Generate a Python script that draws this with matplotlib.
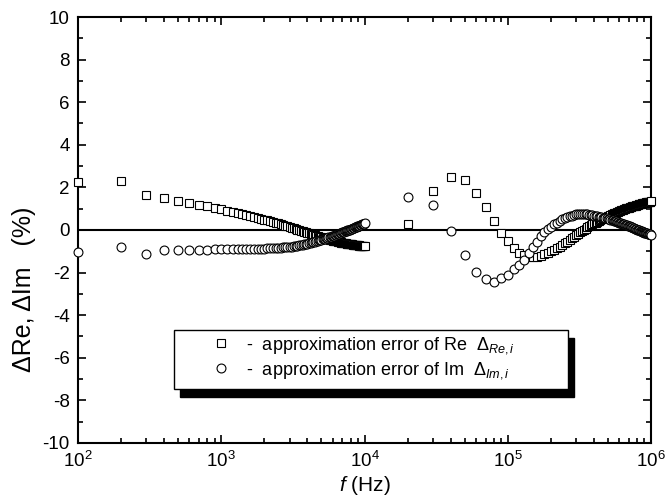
import numpy as np
import matplotlib
matplotlib.use("Agg")
import matplotlib.pyplot as plt
from matplotlib.patches import Rectangle
from matplotlib.lines import Line2D
from matplotlib.ticker import MultipleLocator, LogLocator, NullFormatter

plt.rcParams['font.family'] = ['Liberation Sans', 'DejaVu Sans']
plt.rcParams['mathtext.fontset'] = 'custom'
plt.rcParams['mathtext.rm'] = 'Liberation Sans'
plt.rcParams['mathtext.it'] = 'Liberation Sans:italic'
plt.rcParams['mathtext.bf'] = 'Liberation Sans:bold'
plt.rcParams['axes.unicode_minus'] = False

# ---- data ----
# sampling grid 1: 100 Hz .. 10 kHz in 100 Hz steps
f_low = np.arange(100, 10001, 100)
re_low = [2.25, 2.30, 1.62, 1.50, 1.38, 1.25, 1.18, 1.12, 1.03, 0.97,
          0.91, 0.86, 0.81, 0.76, 0.71, 0.67, 0.62, 0.57, 0.53, 0.49,
          0.45, 0.41, 0.38, 0.34, 0.31, 0.27, 0.24, 0.20, 0.17, 0.14,
          0.11, 0.08, 0.05, 0.02, 0.00, -0.03, -0.06, -0.09, -0.11, -0.14,
          -0.16, -0.19, -0.21, -0.23, -0.25, -0.27, -0.29, -0.31, -0.33, -0.35,
          -0.37, -0.38, -0.40, -0.41, -0.43, -0.44, -0.46, -0.47, -0.48, -0.50,
          -0.51, -0.52, -0.53, -0.54, -0.55, -0.56, -0.57, -0.58, -0.59, -0.60,
          -0.61, -0.62, -0.62, -0.63, -0.64, -0.65, -0.65, -0.66, -0.67, -0.67,
          -0.68, -0.68, -0.69, -0.69, -0.70, -0.70, -0.71, -0.71, -0.72, -0.72,
          -0.72, -0.73, -0.73, -0.74, -0.74, -0.74, -0.75, -0.75, -0.75, -0.76]
im_low = [-1.05, -0.78, -1.15, -0.93, -0.92, -0.92, -0.92, -0.92, -0.91, -0.91,
          -0.91, -0.90, -0.90, -0.89, -0.89, -0.89, -0.88, -0.88, -0.87, -0.87,
          -0.86, -0.86, -0.85, -0.85, -0.84, -0.83, -0.82, -0.81, -0.80, -0.79,
          -0.78, -0.77, -0.75, -0.74, -0.72, -0.71, -0.69, -0.67, -0.66, -0.64,
          -0.62, -0.60, -0.58, -0.57, -0.55, -0.53, -0.51, -0.49, -0.47, -0.45,
          -0.43, -0.41, -0.40, -0.38, -0.36, -0.35, -0.33, -0.31, -0.30, -0.28,
          -0.26, -0.25, -0.23, -0.21, -0.20, -0.18, -0.16, -0.15, -0.13, -0.11,
          -0.10, -0.08, -0.07, -0.05, -0.04, -0.02, -0.01, 0.01, 0.02, 0.04,
          0.05, 0.07, 0.08, 0.10, 0.11, 0.13, 0.14, 0.16, 0.17, 0.19,
          0.20, 0.21, 0.23, 0.24, 0.25, 0.26, 0.28, 0.29, 0.30, 0.31]

# sampling grid 2: 20 kHz .. 1 MHz in 10 kHz steps
f_high = np.arange(20000, 1000001, 10000)
re_high = [0.30, 1.85, 2.50, 2.35, 1.75, 1.08, 0.44, -0.15, -0.50,
           -0.85, -1.07, -1.18, -1.25, -1.28, -1.27, -1.22, -1.15, -1.07, -1.00,
           -0.93, -0.86, -0.79, -0.71, -0.63, -0.55, -0.47, -0.39, -0.31, -0.24,
           -0.17, -0.11, -0.05, 0.01, 0.07, 0.12, 0.17, 0.22, 0.27, 0.31,
           0.35, 0.39, 0.43, 0.47, 0.50, 0.53, 0.56, 0.59, 0.62, 0.65,
           0.68, 0.70, 0.73, 0.75, 0.78, 0.80, 0.82, 0.84, 0.86, 0.88,
           0.90, 0.92, 0.94, 0.96, 0.97, 0.99, 1.01, 1.02, 1.04, 1.05,
           1.07, 1.08, 1.09, 1.11, 1.12, 1.13, 1.14, 1.15, 1.17, 1.18,
           1.19, 1.20, 1.21, 1.22, 1.23, 1.24, 1.25, 1.26, 1.26, 1.27,
           1.28, 1.29, 1.30, 1.30, 1.31, 1.32, 1.32, 1.33, 1.33, 1.34]
im_high = [1.56, 1.17, -0.05, -1.19, -1.96, -2.30, -2.44, -2.27, -2.10,
           -1.85, -1.62, -1.40, -1.10, -0.81, -0.55, -0.30, -0.10, 0.05, 0.16,
           0.26, 0.35, 0.43, 0.50, 0.56, 0.61, 0.65, 0.68, 0.71, 0.73,
           0.74, 0.75, 0.75, 0.75, 0.74, 0.73, 0.72, 0.70, 0.69, 0.67,
           0.66, 0.64, 0.63, 0.61, 0.60, 0.58, 0.57, 0.55, 0.54, 0.52,
           0.50, 0.49, 0.47, 0.45, 0.44, 0.42, 0.40, 0.39, 0.37, 0.35,
           0.34, 0.32, 0.30, 0.29, 0.27, 0.25, 0.24, 0.22, 0.20, 0.19,
           0.17, 0.15, 0.14, 0.12, 0.10, 0.09, 0.07, 0.06, 0.04, 0.02,
           0.01, -0.01, -0.02, -0.04, -0.05, -0.07, -0.08, -0.09, -0.11, -0.12,
           -0.13, -0.14, -0.15, -0.16, -0.17, -0.18, -0.19, -0.20, -0.21, -0.22]

label_re = r"-  approximation error of Re  $\mathit{Δ}_{Re,i}$"
label_im = r"-  approximation error of Im  $\mathit{Δ}_{Im,i}$"

# ---- figure ----
fig = plt.figure(figsize=(6.66, 5.03), dpi=100)
ax = fig.add_axes([0.1171, 0.1193, 0.8604, 0.8469])

mk = dict(linestyle='none', markerfacecolor='white', markeredgecolor='black',
          markeredgewidth=0.8, markersize=6.4)
f_all = np.concatenate([f_low, f_high])
re_all = np.concatenate([re_low, re_high])
im_all = np.concatenate([im_low, im_high])

ax.axhline(0, color='black', lw=1.5, zorder=1)
ax.plot(f_all, re_all, marker='s', zorder=3, clip_on=False, **mk)
ax.plot(f_all, im_all, marker='o', zorder=3, clip_on=False, **mk)

ax.set_xscale('log')
ax.set_xlim(1e2, 1e6)
ax.set_ylim(-10, 10)
ax.yaxis.set_major_locator(MultipleLocator(2))
ax.yaxis.set_minor_locator(MultipleLocator(1))
ax.xaxis.set_major_locator(LogLocator(base=10, numticks=10))
ax.xaxis.set_minor_locator(LogLocator(base=10, subs=np.arange(2, 10), numticks=20))
ax.xaxis.set_minor_formatter(NullFormatter())

for s in ax.spines.values():
    s.set_linewidth(1.5)
ax.tick_params(which='both', direction='in', top=True, right=True, width=1.2)
ax.tick_params(which='major', length=6, labelsize=13.5, pad=6)
ax.tick_params(which='minor', length=3.6)

ax.set_xlabel(r"$f$ (Hz)", fontsize=15, labelpad=2)
ax.set_ylabel("ΔRe, ΔIm   (%)", fontsize=18)
ax.yaxis.set_label_coords(-0.074, 0.3615)

# legend frame with hard shadow
bx0, by0, bw, bh = 0.1675, 0.1268, 0.6877, 0.1385
ax.add_patch(Rectangle((bx0 + 0.0105, by0 - 0.0188), bw, bh, transform=ax.transAxes,
                       facecolor='black', edgecolor='black', zorder=6))
ax.add_patch(Rectangle((bx0, by0), bw, bh, transform=ax.transAxes,
                       facecolor='white', edgecolor='black', lw=1.0, zorder=7))

handles = [Line2D([], [], marker='s', **mk), Line2D([], [], marker='o', **mk)]
leg = ax.legend(handles, [label_re, label_im], loc='upper left',
                bbox_to_anchor=(0.2333, 0.2530), frameon=False, fontsize=13,
                borderaxespad=0, borderpad=0, handlelength=1.0, handletextpad=0.9,
                labelspacing=0.2)
leg.set_zorder(8)

fig.savefig("out.png", dpi=100)
